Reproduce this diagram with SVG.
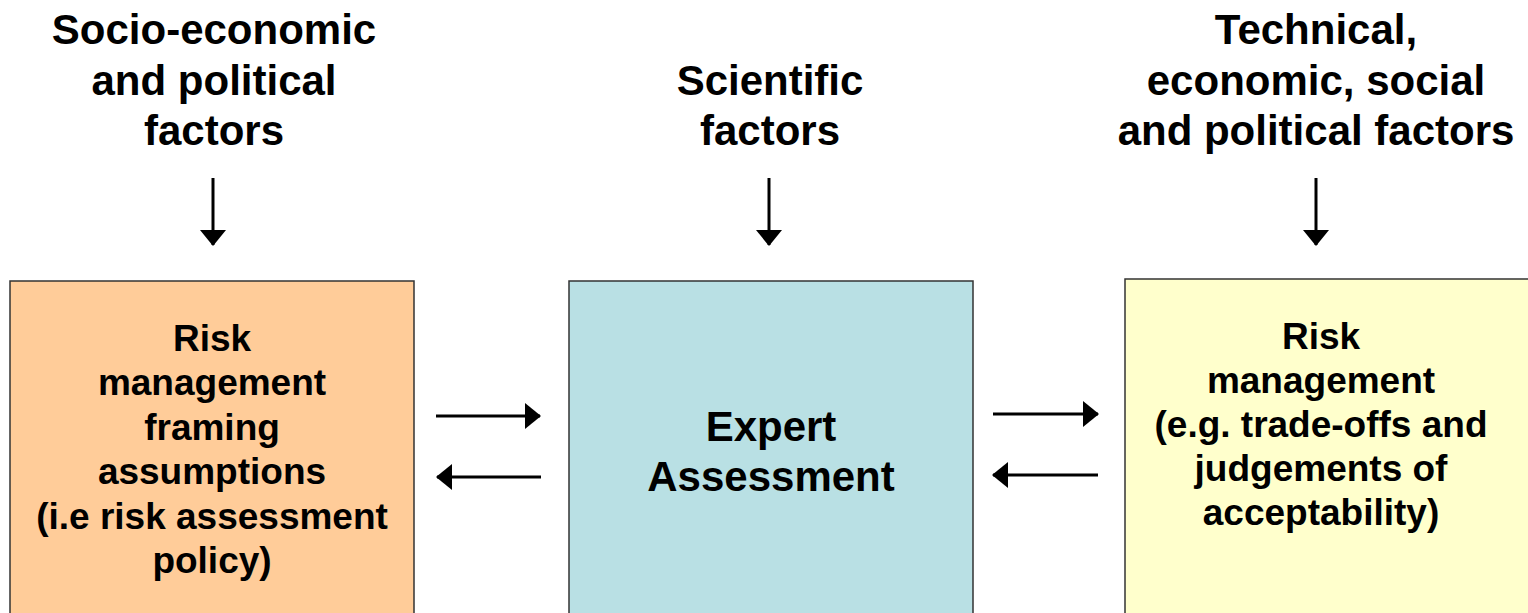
<svg xmlns="http://www.w3.org/2000/svg" width="1528" height="613" viewBox="0 0 1528 613">
<style>
.t{font-family:"Liberation Sans",Arial,sans-serif;font-weight:bold;fill:#000;text-anchor:middle}
.lab{font-size:42px}
.box{font-size:37px}
.big{font-size:42px}
.b{stroke:#333;stroke-width:1.5}
.c{stroke:#000;stroke-width:3;fill:none;marker-end:url(#ah)}
</style>
<defs>
<marker id="ah" markerUnits="userSpaceOnUse" markerWidth="16" markerHeight="28" viewBox="0 0 16 28" refX="15" refY="14" orient="auto">
<polygon points="0,1 16,14 0,27" fill="#000"/>
</marker>
</defs>
<g id="label-left">
<text class="t lab" x="214" y="44">Socio-economic</text>
<text class="t lab" x="214" y="95">and political</text>
<text class="t lab" x="214" y="145">factors</text>
</g>
<g id="label-mid">
<text class="t lab" x="770" y="95">Scientific</text>
<text class="t lab" x="770" y="145">factors</text>
</g>
<g id="label-right">
<text class="t lab" x="1316" y="44">Technical,</text>
<text class="t lab" x="1316" y="95">economic, social</text>
<text class="t lab" x="1316" y="145">and political factors</text>
</g>
<g id="node-left">
<rect class="b" x="10" y="281" width="404" height="340" fill="#FFCC99"/>
<text class="t box" x="212" y="351">Risk</text>
<text class="t box" x="212" y="395">management</text>
<text class="t box" x="212" y="440">framing</text>
<text class="t box" x="212" y="484">assumptions</text>
<text class="t box" x="212" y="529">(i.e risk assessment</text>
<text class="t box" x="212" y="573">policy)</text>
</g>
<g id="node-mid">
<rect class="b" x="569" y="281" width="404" height="340" fill="#B9E0E4"/>
<text class="t big" x="771" y="441">Expert</text>
<text class="t big" x="771" y="491">Assessment</text>
</g>
<g id="node-right">
<rect class="b" x="1125" y="279" width="410" height="340" fill="#FFFFCC"/>
<text class="t box" x="1321" y="349">Risk</text>
<text class="t box" x="1321" y="393">management</text>
<text class="t box" x="1321" y="437">(e.g. trade-offs and</text>
<text class="t box" x="1321" y="481">judgements of</text>
<text class="t box" x="1321" y="525">acceptability)</text>
</g>
<g id="connectors">
<line class="c" x1="213" y1="178" x2="213" y2="245"/>
<line class="c" x1="769" y1="178" x2="769" y2="245"/>
<line class="c" x1="1316" y1="178" x2="1316" y2="245"/>
<line class="c" x1="436" y1="416" x2="540" y2="416"/>
<line class="c" x1="541" y1="477" x2="437" y2="477"/>
<line class="c" x1="993" y1="414" x2="1098" y2="414"/>
<line class="c" x1="1098" y1="475" x2="993" y2="475"/>
</g>
</svg>
